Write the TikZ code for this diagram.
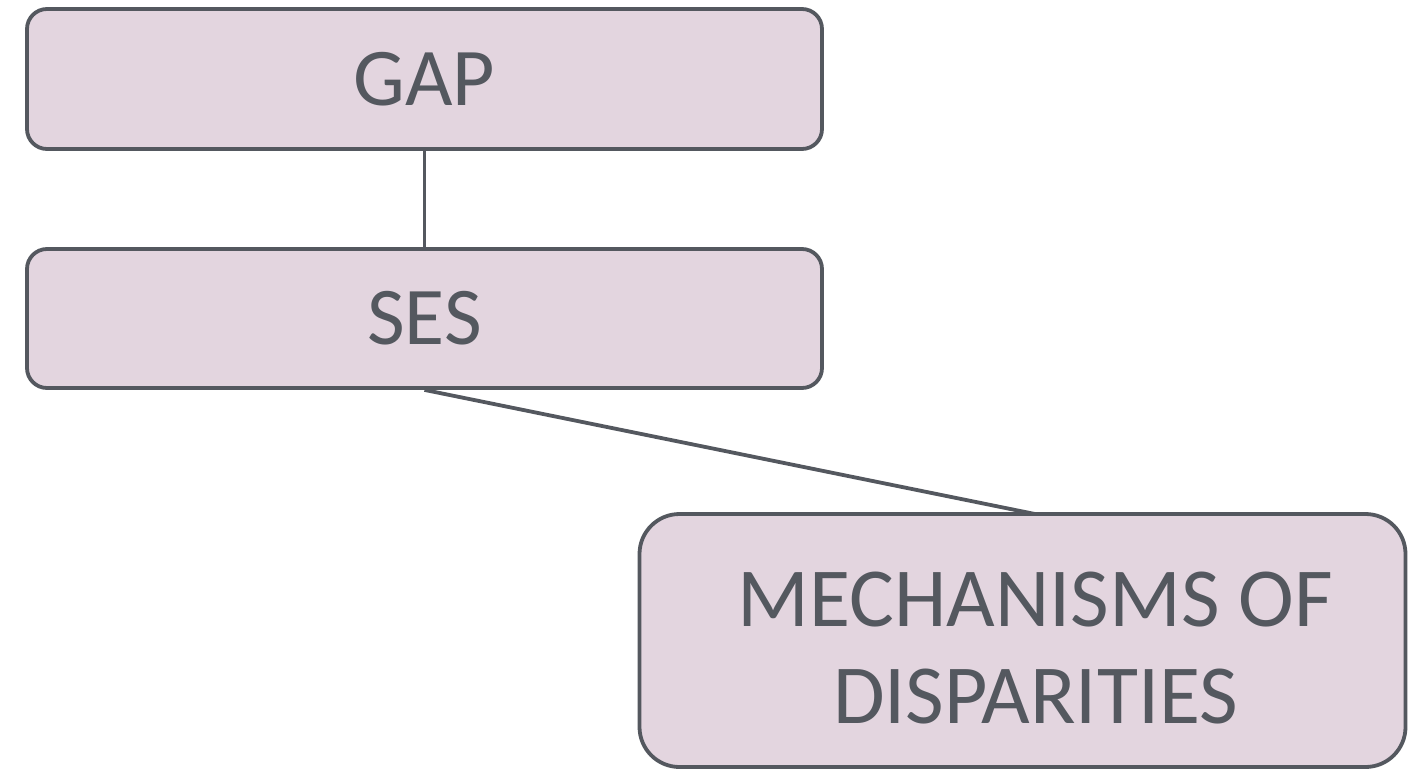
\documentclass[tikz,border=0pt]{standalone}
\usepackage{fontspec}
\setmainfont{Carlito}
\definecolor{boxfill}{HTML}{E3D5DF}
\definecolor{boxline}{HTML}{54585F}
\begin{document}
\begin{tikzpicture}[x=1pt,y=-1pt,
  conceptbox/.style={draw=boxline, fill=boxfill, line width=3.8pt, rounded corners=20pt,
    text=boxline, align=center, inner sep=0pt, font=\fontsize{82}{98}\selectfont},
  link/.style={draw=boxline, line width=3.8pt}]
\useasboundingbox (0,0) rectangle (1408,769);
\node[conceptbox, minimum width=795pt, minimum height=140pt] (gap) at (424.5,79) {GAP};
\node[conceptbox, minimum width=795pt, minimum height=139pt] (ses) at (424.5,318.5) {SES};
\node[conceptbox, rounded corners=40pt, minimum width=766pt, minimum height=253pt,
  font=\fontsize{84}{97}\selectfont]
  (mech) at (1022.5,640.5)
  {\rule{0pt}{70pt}\hspace*{26pt}MECHANISMS OF\\\hspace*{26pt}DISPARITIES};
\coordinate (mechtop) at (1035,514);
\draw[link] (gap.south) -- (ses.north);
\draw[link] (ses.south) -- (mechtop);
\end{tikzpicture}
\end{document}
